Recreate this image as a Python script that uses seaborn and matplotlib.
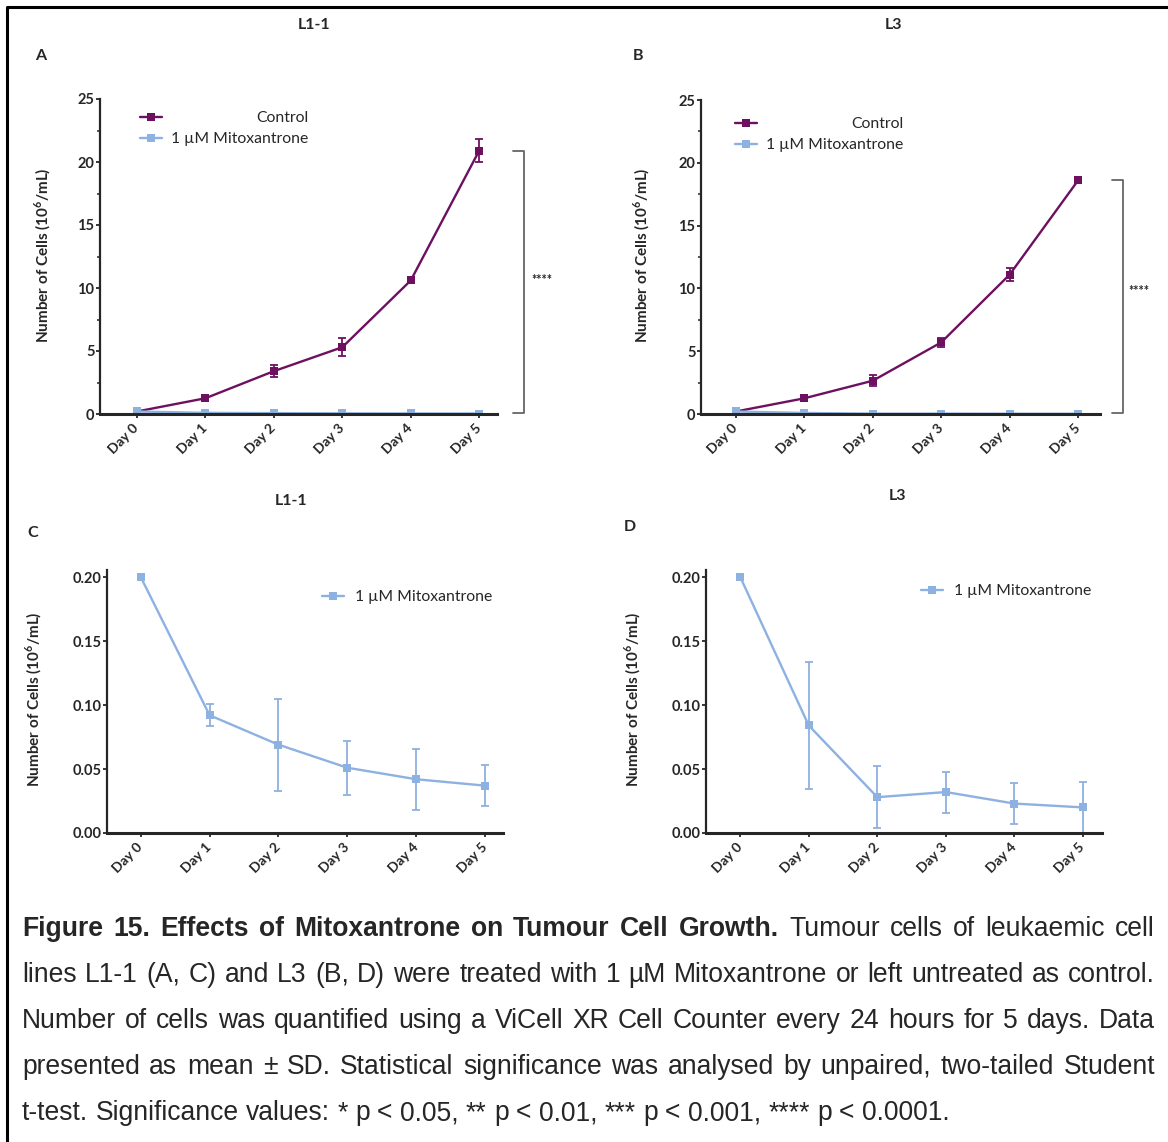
import os
import matplotlib
matplotlib.use("Agg")
import matplotlib.pyplot as plt
import seaborn as sns
import numpy as np
from matplotlib.lines import Line2D
from matplotlib.ticker import MultipleLocator
from matplotlib import font_manager

# data (mean and SD, 10^6 cells/mL)
days = ["Day 0", "Day 1", "Day 2", "Day 3", "Day 4", "Day 5"]

l11_control = [0.2, 1.25, 3.4, 5.3, 10.6, 20.9]
l11_control_sd = [0.1, 0.1, 0.5, 0.7, 0.15, 0.9]
l11_mitox = [0.2, 0.092, 0.069, 0.051, 0.042, 0.037]
l11_mitox_sd = [0.0, 0.0085, 0.036, 0.021, 0.024, 0.016]

l3_control = [0.2, 1.25, 2.65, 5.7, 11.1, 18.6]
l3_control_sd = [0.1, 0.12, 0.45, 0.35, 0.55, 0.2]
l3_mitox = [0.2, 0.084, 0.028, 0.032, 0.023, 0.020]
l3_mitox_sd = [0.0, 0.05, 0.024, 0.016, 0.016, 0.02]

CONTROL = "#6E1060"
MITOX = "#8DB1E0"
W, H = 1168, 1142

sns.set_theme(style="ticks")
plt.rcParams.update({
    "font.family": ["Lato", "DejaVu Sans"],
    "mathtext.fontset": "custom",
    "mathtext.rm": "Lato",
    "mathtext.bf": "Lato:bold",
    "axes.linewidth": 1.6,
    "xtick.major.width": 1.3,
    "ytick.major.width": 1.3,
    "ytick.minor.width": 1.1,
    "xtick.major.size": 3,
    "ytick.major.size": 3,
    "ytick.minor.size": 2.2,
})

fig = plt.figure(figsize=(W / 100, H / 100), dpi=100)


def px_axes(left, right, top, bottom):
    return fig.add_axes([left / W, (H - bottom) / H, (right - left) / W, (bottom - top) / H])


def series(ax, y, sd, color, label):
    x = np.arange(len(days))
    sns.lineplot(x=x, y=y, ax=ax, color=color, marker="s", markersize=6,
                 markeredgewidth=0, linewidth=1.7, label=label)
    ax.errorbar(x, y, yerr=sd, fmt="none", ecolor=color, elinewidth=1.3,
                capsize=3, capthick=1.3)


def style_axes(ax, xlim, ylim, major, minor, fmt):
    ax.set_xlim(*xlim)
    ax.set_ylim(*ylim)
    ax.set_xticks(np.arange(len(days)))
    ax.set_xticklabels(days, rotation=45, ha="right", va="center",
                       rotation_mode="anchor", fontweight="bold", fontsize=10)
    ax.yaxis.set_major_locator(MultipleLocator(major))
    if minor:
        ax.yaxis.set_minor_locator(MultipleLocator(minor))
    ax.yaxis.set_major_formatter(fmt)
    for t in ax.get_yticklabels():
        t.set_fontweight("bold")
        t.set_fontsize(10.5)
    ax.tick_params(axis="x", pad=6)
    ax.tick_params(axis="y", pad=1)
    for s in ["top", "right"]:
        ax.spines[s].set_visible(False)
    ax.spines["bottom"].set_linewidth(2.2)
    ax.set_ylabel(r"Number of Cells (10$^{\mathbf{6}}$/mL)", fontweight="bold",
                  fontsize=11, va="center")
    ax.set_xlabel("")


def legend(ax, x, y, right_align):
    leg = ax.legend(loc="upper left", bbox_to_anchor=(x / W, (H - y) / H),
                    bbox_transform=fig.transFigure, frameon=False, fontsize=11.3,
                    handlelength=1.4, handletextpad=0.7, borderpad=0,
                    borderaxespad=0, labelspacing=0.45)
    if right_align:
        r = fig.canvas.get_renderer()
        ws = [t.get_window_extent(r).width for t in leg.get_texts()]
        for t, w in zip(leg.get_texts(), ws):
            t.set_position((max(ws) - w - 2, 0))
    return leg


def bracket(ax, x0, x1, ytop, ybot, xs, ys):
    ax.plot([x0, x1, x1, x0], [ytop, ytop, ybot, ybot], color="#666666",
            lw=1.3, clip_on=False)
    ax.text(xs, ys, "****", ha="center", va="center", fontsize=9,
            fontweight="bold", clip_on=False)


# Panel A
axA = px_axes(100, 497, 99, 414)
series(axA, l11_control, l11_control_sd, CONTROL, "Control")
series(axA, l11_mitox, l11_mitox_sd, MITOX, "1 µM Mitoxantrone")
style_axes(axA, (-0.54, 5.26), (0, 25), 5, 2.5, "{x:.0f}")
axA.yaxis.set_label_coords((43 - 100) / 397, 0.505)
legend(axA, 140, 111, True)
bracket(axA, 5.50, 5.66, 20.9, 0.1, 5.92, 10.6)

# Panel B
axB = px_axes(701, 1100, 100, 414)
series(axB, l3_control, l3_control_sd, CONTROL, "Control")
series(axB, l3_mitox, l3_mitox_sd, MITOX, "1 µM Mitoxantrone")
style_axes(axB, (-0.51, 5.32), (0, 25), 5, 2.5, "{x:.0f}")
axB.yaxis.set_label_coords((642 - 701) / 399, 0.505)
legend(axB, 735, 117, True)
bracket(axB, 5.50, 5.65, 18.6, 0.1, 5.89, 9.8)

# Panel C
axC = px_axes(107, 503, 570, 833)
series(axC, l11_mitox, l11_mitox_sd, MITOX, "1 µM Mitoxantrone")
style_axes(axC, (-0.49, 5.26), (0, 0.2055), 0.05, None, "{x:.2f}")
axC.yaxis.set_label_coords((34 - 107) / 396, 0.51)
legend(axC, 322, 590, False)

# Panel D
axD = px_axes(706, 1102, 570, 833)
series(axD, l3_mitox, l3_mitox_sd, MITOX, "1 µM Mitoxantrone")
style_axes(axD, (-0.5, 5.28), (0, 0.2055), 0.05, None, "{x:.2f}")
axD.yaxis.set_label_coords((633 - 706) / 396, 0.51)
legend(axD, 921, 584, False)

# panel titles and letters
for txt, x, y in [("L1-1", 314, 25), ("L3", 893, 25),
                  ("L1-1", 291, 501), ("L3", 898, 496),
                  ("A", 41, 56), ("B", 638, 56),
                  ("C", 33, 533), ("D", 630, 527)]:
    fig.text(x / W, (H - y) / H, txt, ha="center", va="center",
             fontsize=11.5, fontweight="bold")

# frame lines (top and left)
fig.add_artist(Line2D([7 / W, 7 / W, 1.0], [0.0, (H - 7) / H, (H - 7) / H],
                      transform=fig.transFigure, color="black", lw=2.2))

# caption, justified
caption = [
    ([("Figure 15. Effects of Mitoxantrone on Tumour Cell Growth.", True),
      ("Tumour cells of leukaemic cell", False)], True),
    ([("lines L1-1 (A, C) and L3 (B, D) were treated with 1 µM Mitoxantrone or left untreated as control.", False)], True),
    ([("Number of cells was quantified using a ViCell XR Cell Counter every 24 hours for 5 days. Data", False)], True),
    ([("presented as mean ± SD. Statistical significance was analysed by unpaired, two-tailed Student", False)], True),
    ([("t-test. Significance values: * p < 0.05, ** p < 0.01, *** p < 0.001, **** p < 0.0001.", False)], False),
]


def find_font(name):
    for f in font_manager.findSystemFonts():
        if os.path.basename(f) == name:
            return f
    return None


cap_size = 19.1
reg_path = find_font("LiberationSans-Regular.ttf")
bold_path = find_font("LiberationSans-Bold.ttf")
cap_reg = font_manager.FontProperties(fname=reg_path, size=cap_size) if reg_path else \
    font_manager.FontProperties(family="DejaVu Sans", size=cap_size)
cap_bold = font_manager.FontProperties(fname=bold_path, size=cap_size) if bold_path else \
    font_manager.FontProperties(family="DejaVu Sans", weight="bold", size=cap_size)

x_left, x_right = 22, 1155
renderer = fig.canvas.get_renderer()
probe = fig.text(0, 0, "a a", fontproperties=cap_reg)
probe2 = fig.text(0, 0, "aa", fontproperties=cap_reg)
space_w = probe.get_window_extent(renderer).width - probe2.get_window_extent(renderer).width
probe.remove()
probe2.remove()

for i, (parts, justify) in enumerate(caption):
    y = H - (929 + 46 * i)
    words = [(w, b) for text, b in parts for w in text.split(" ")]
    arts = [fig.text(0, y / H, w, fontproperties=cap_bold if b else cap_reg,
                     va="center", ha="left")
            for w, b in words]
    widths = [a.get_window_extent(renderer).width for a in arts]
    if justify:
        gap = (x_right - x_left - sum(widths)) / (len(arts) - 1)
    else:
        gap = space_w
    x = x_left
    for a, w in zip(arts, widths):
        a.set_x(x / W)
        x += w + gap

fig.savefig("out.png", dpi=100)
